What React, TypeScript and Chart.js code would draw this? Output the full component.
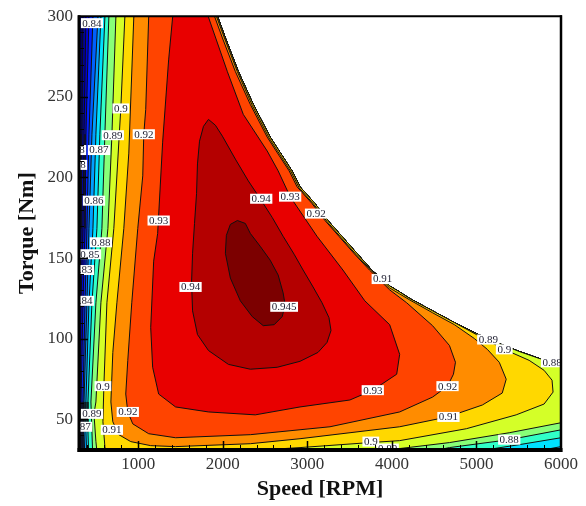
import React, { useEffect, useRef } from 'react';
import { Chart, registerables } from 'chart.js';

Chart.register(...registerables);

// ---------- axes ----------
const xMin = 300;
const xMax = 6000;
const yMin = 31;
const yMax = 300;
const xTickValues = [1000, 2000, 3000, 4000, 5000, 6000];
const yTickValues = [50, 100, 150, 200, 250, 300];
const xMinorStep = 200;
const yMinorStep = 10;

// ---------- maximum-torque envelope (from 6000 rpm back to the 300 Nm line) ----------
const envelopeRpm = [6000, 5741, 5505, 5270, 4999, 4740, 4481, 4210, 4092, 3974, 3762, 3586, 3409, 3244, 3091, 2914, 2820, 2691, 2561, 2361, 2184, 2031, 1937];
const envelopeNm = [83.5, 87.8, 92.1, 97, 103.2, 110, 117.3, 125, 129, 132.7, 142.6, 153, 163.5, 173.3, 183.8, 194.2, 204, 214.5, 225, 245.3, 265.7, 286.5, 300];

// ---------- efficiency contour paths (superlevel-set outlines) ----------
const baseRpm = [290, 290, 6100, 6100];
const baseNm = [310, 24, 24, 83.5];

const c081Rpm = [347, 347, 335, 324, 312, 306, 306, 6100, 6100];
const c081Nm = [310, 299.4, 226.8, 168.4, 122.3, 60.8, 24, 24, 83.5];
const c082Rpm = [382, 382, 359, 347, 324, 312, 312, 6100, 6100];
const c082Nm = [310, 299.4, 226.8, 168.4, 122.3, 60.8, 24, 24, 83.5];
const c083Rpm = [418, 418, 382, 371, 347, 324, 324, 6100, 6100];
const c083Nm = [310, 299.4, 226.8, 168.4, 122.3, 60.8, 24, 24, 83.5];
const c084Rpm = [465, 465, 418, 394, 371, 347, 347, 6100, 6100];
const c084Nm = [310, 299.4, 226.8, 168.4, 122.3, 60.8, 24, 24, 83.5];
const c085Rpm = [524, 524, 453, 418, 394, 359, 359, 371, 6100, 6100];
const c085Nm = [310, 299.4, 226.8, 168.4, 122.3, 60.8, 42.3, 24, 24, 83.5];
const c086Rpm = [559, 559, 500, 465, 418, 382, 382, 394, 5623, 5682, 6000, 6100, 6100];
const c086Nm = [310, 299.4, 226.8, 168.4, 122.3, 60.8, 42.3, 24, 24, 30, 33.1, 33.1, 83.5];
const c087Rpm = [606, 606, 547, 512, 453, 406, 406, 418, 4917, 4976, 5505, 6000, 6100, 6100];
const c087Nm = [310, 299.4, 226.8, 168.4, 122.3, 60.8, 42.3, 24, 24, 30, 34.3, 38.6, 38.6, 83.5];
const c088Rpm = [653, 653, 606, 571, 500, 441, 453, 465, 4328, 4445, 4681, 5388, 6000, 6100, 6100];
const c088Nm = [310, 299.4, 226.8, 168.4, 122.3, 60.8, 42.3, 24, 24, 30, 32.5, 37.4, 43.5, 43.5, 83.5];
const c089Rpm = [736, 736, 689, 642, 559, 500, 477, 500, 524, 3857, 3974, 4092, 4681, 5388, 6000, 6100, 6100];
const c089Nm = [310, 299.4, 226.2, 168.4, 122.3, 60.8, 53.4, 36.2, 24, 24, 30.6, 31.9, 35.6, 41.7, 47.9, 47.9, 83.5];
const c090Rpm = [842, 842, 795, 712, 630, 594, 583, 606, 630, 2031, 2126, 2326, 2914, 3739, 4092, 4881, 5470, 5800, 5906, 5894, 5800, 5623, 5329, 4999];
const c090Nm = [310, 299.4, 243.4, 168.4, 122.3, 70.6, 48.5, 33.1, 24, 24, 29.4, 30.6, 32.5, 35.6, 36.8, 44.2, 52.8, 59.5, 66.9, 74.3, 80.4, 86.6, 93.4, 102.6];
const c091Rpm = [948, 948, 889, 830, 748, 700, 677, 700, 771, 912, 1148, 1442, 2326, 2914, 4092, 4658, 5070, 5305, 5352, 5270, 5129, 4976, 4740, 4481, 4210, 4092, 3974, 3750, 3574, 3397, 3233, 3079, 2903, 2809, 2679, 2549, 2349, 2173, 2020, 1925, 1913];
const c091Nm = [310, 299.4, 215.1, 168.4, 122.3, 91.5, 60.8, 48.5, 40.5, 36.2, 33.7, 33.1, 34.9, 38, 45.4, 51.5, 58.9, 66.3, 74.9, 85.4, 93.4, 100.1, 108.7, 116.1, 124.1, 127.8, 131.5, 142.6, 152.4, 162.9, 172.7, 183.2, 193.6, 203.4, 213.9, 224.4, 244.7, 265.6, 286.5, 300, 310];
const c092Rpm = [1124, 1124, 1089, 1066, 1054, 995, 924, 877, 853, 877, 936, 1124, 1442, 2326, 3268, 4092, 4481, 4658, 4728, 4752, 4681, 4481, 4175, 3974, 3735, 3550, 3374, 3209, 3056, 2879, 2785, 2655, 2526, 2326, 2149, 1996, 1902, 1890];
const c092Nm = [310, 299.4, 242.2, 226.8, 201, 168.4, 122.3, 86.6, 65.7, 54.6, 47.2, 41.1, 38.6, 40.5, 45.4, 54.6, 63.8, 70.6, 78, 85.4, 95.8, 108.1, 122.3, 130.3, 142.6, 153, 163.5, 173.3, 183.8, 194.2, 204.1, 214.5, 225, 245.3, 265.7, 286.5, 300, 310];
const c093Rpm = [1407, 1407, 1360, 1289, 1230, 1183, 1148, 1171, 1242, 1442, 1831, 2385, 2914, 3503, 3774, 4057, 4092, 3974, 3680, 3421, 3115, 2797, 2655, 2526, 2243, 2055, 1831, 1807];
const c093Nm = [310, 299.4, 272.9, 221.9, 165.3, 148.1, 106.9, 82.3, 65.7, 57.7, 54.6, 52.8, 57.7, 62, 68.1, 78, 90.3, 108.7, 123.5, 142.6, 163.5, 188.1, 204.1, 216.4, 239.1, 265.6, 299.4, 310];
const c094Rpm = [1831, 1913, 1996, 2149, 2302, 2443, 2585, 2714, 2844, 2950, 3068, 3174, 3256, 3280, 3233, 3126, 2914, 2644, 2326, 2067, 1831, 1701, 1643, 1631, 1643, 1666, 1690, 1701, 1725, 1772, 1831];
const c094Nm = [236, 232.4, 225.6, 211.4, 197.9, 186.8, 175.2, 163.5, 152.4, 142.6, 132.1, 122.3, 113.1, 105.1, 97.7, 91.5, 86, 82.3, 81.1, 84.1, 92.7, 102.6, 117.3, 134.6, 153, 171.5, 189.9, 208.4, 222.5, 231.7, 236];
const c0945Rpm = [2173, 2267, 2326, 2443, 2561, 2655, 2714, 2738, 2703, 2608, 2479, 2349, 2208, 2090, 2031, 2043, 2090, 2173];
const c0945Nm = [173.3, 171.5, 165.3, 157.3, 148.7, 139.5, 128.4, 121, 113.7, 108.7, 108.1, 113.7, 123.5, 137.6, 153, 164.1, 170.9, 173.3];

const levelNames = ['<0.81', '0.81', '0.82', '0.83', '0.84', '0.85', '0.86', '0.87', '0.88', '0.89', '0.9', '0.91', '0.92', '0.93', '0.94', '0.945'];
const levelColors = ['#000060', '#0000a0', '#0000d8', '#0020ff', '#0060ff', '#00a0ff', '#00e0ff', '#30ffc8', '#88ff78', '#d4ff28', '#ffd800', '#ff8c00', '#ff4400', '#e80000', '#b40000', '#7c0000'];
const levelRpm = [baseRpm, c081Rpm, c082Rpm, c083Rpm, c084Rpm, c085Rpm, c086Rpm, c087Rpm, c088Rpm, c089Rpm, c090Rpm, c091Rpm, c092Rpm, c093Rpm, c094Rpm, c0945Rpm];
const levelNm = [baseNm, c081Nm, c082Nm, c083Nm, c084Nm, c085Nm, c086Nm, c087Nm, c088Nm, c089Nm, c090Nm, c091Nm, c092Nm, c093Nm, c094Nm, c0945Nm];
const levelClosed = [false, false, false, false, false, false, false, false, false, false, false, false, false, false, true, true];

// ---------- contour labels ----------
const labelText = ['0.84', '0.9', '0.89', '0.92', '0.87', '0.88', '0.88', '0.86', '0.93', '0.88', '0.85', '0.83', '0.84', '0.94', '0.945', '0.94', '0.93', '0.92', '0.91', '0.89', '0.9', '0.88', '0.92', '0.93', '0.91', '0.9', '0.89', '0.88', '0.9', '0.89', '0.92', '0.87', '0.91'];
const labelRpm = [453, 795, 700, 1066, 536, 253, 265, 477, 1242, 559, 430, 347, 347, 1619, 2726, 2455, 2797, 3103, 3892, 5140, 5329, 5894, 4658, 3774, 4669, 3751, 3951, 5388, 583, 453, 877, 324, 689];
const labelNm = [295.7, 242.8, 226.2, 226.8, 217, 217, 207.8, 185.6, 173.3, 159.8, 152.4, 142.6, 123.5, 132.1, 119.8, 186.8, 188.1, 177.6, 137, 99.5, 93.4, 85.4, 70.6, 68.1, 51.5, 36.2, 31.9, 37.4, 70.6, 53.4, 54.6, 45.4, 43.5];

const ABOVE_TOP = 310;

function buildPolygon(rpm: number[], nm: number[], closed: boolean) {
  const pts = rpm.map((x, i) => ({ x, y: nm[i] }));
  if (closed) return pts;
  const last = pts[pts.length - 1];
  if (last.y < ABOVE_TOP - 1) {
    for (let i = 0; i < envelopeRpm.length; i++) {
      if (envelopeRpm[i] < last.x - 1) pts.push({ x: envelopeRpm[i], y: envelopeNm[i] });
    }
    pts.push({ x: envelopeRpm[envelopeRpm.length - 1], y: ABOVE_TOP });
  }
  pts.push({ ...pts[0] });
  return pts;
}

const SERIF = '"Liberation Serif", "Times New Roman", serif';

const decorPlugin = {
  id: 'decor',
  afterDatasetsDraw(chart: any) {
    const { ctx, chartArea: a } = chart;
    const xs = chart.scales.x;
    const ys = chart.scales.y;
    // contour labels
    ctx.save();
    ctx.beginPath();
    ctx.rect(a.left, a.top, a.right - a.left, a.bottom - a.top);
    ctx.clip();
    ctx.font = '11px ' + SERIF;
    ctx.textAlign = 'center';
    ctx.textBaseline = 'middle';
    labelText.forEach((t, i) => {
      const px = xs.getPixelForValue(labelRpm[i]);
      const py = ys.getPixelForValue(labelNm[i]);
      const w = ctx.measureText(t).width + 3;
      const h = 10;
      ctx.fillStyle = '#ffffff';
      ctx.fillRect(px - w / 2, py - h / 2, w, h);
      ctx.fillStyle = '#1e1e30';
      ctx.fillText(t, px, py + 0.5);
    });
    ctx.restore();

    // inward ticks
    ctx.save();
    ctx.strokeStyle = '#000';
    const seg = (x1: number, y1: number, x2: number, y2: number, w: number) => {
      ctx.lineWidth = w;
      ctx.beginPath();
      ctx.moveTo(x1, y1);
      ctx.lineTo(x2, y2);
      ctx.stroke();
    };
    for (let v = Math.ceil(xMin / xMinorStep) * xMinorStep; v < xMax; v += xMinorStep) {
      const major = xTickValues.includes(v);
      const px = Math.round(xs.getPixelForValue(v)) + 0.5;
      seg(px, a.bottom, px, a.bottom - (major ? 9 : 5), major ? 1.5 : 1);
    }
    for (let v = Math.ceil(yMin / yMinorStep) * yMinorStep; v < yMax; v += yMinorStep) {
      const major = yTickValues.includes(v);
      const py = Math.round(ys.getPixelForValue(v)) + 0.5;
      seg(a.left, py, a.left + (major ? 9 : 5), py, major ? 1.5 : 1);
    }
    // frame
    seg(a.left - 1, a.top, a.right + 1, a.top, 2);
    seg(a.right, a.top - 1, a.right, a.bottom + 2, 2.5);
    seg(a.left, a.top - 1, a.left, a.bottom + 2, 3);
    seg(a.left - 1.5, a.bottom, a.right + 1.5, a.bottom, 4);
    ctx.restore();
  },
};

export default function App() {
  const canvasRef = useRef<HTMLCanvasElement | null>(null);

  useEffect(() => {
    const canvas = canvasRef.current;
    if (!canvas) return;
    const n = levelNames.length;
    const datasets = levelNames.map((name, i) => ({
      label: name,
      data: buildPolygon(levelRpm[i], levelNm[i], levelClosed[i]),
      showLine: true,
      fill: 'shape',
      backgroundColor: levelColors[i],
      borderColor: '#101010',
      borderWidth: 1,
      pointRadius: 0,
      pointHoverRadius: 0,
      tension: 0,
      order: n - i,
    }));

    const chart = new Chart(canvas, {
      type: 'scatter',
      data: { datasets } as any,
      options: {
        responsive: false,
        animation: false,
        devicePixelRatio: 1,
        events: [],
        layout: { padding: { left: 0, right: 25, top: 11, bottom: 0 } },
        plugins: {
          legend: { display: false },
          tooltip: { enabled: false },
        },
        scales: {
          x: {
            type: 'linear',
            min: xMin,
            max: xMax,
            grid: { display: false, drawTicks: false },
            border: { display: false },
            afterBuildTicks: (s: any) => {
              s.ticks = xTickValues.map((v) => ({ value: v }));
            },
            afterFit: (s: any) => {
              s.height = 56;
            },
            ticks: {
              padding: 4,
              color: '#333',
              font: { family: SERIF, size: 17 },
              maxRotation: 0,
              callback: (v: any) => String(v),
            },
            title: {
              display: true,
              text: 'Speed [RPM]',
              color: '#111',
              font: { family: SERIF, size: 22, weight: 'bold' },
              padding: { top: 0, bottom: 3 },
            },
          },
          y: {
            type: 'linear',
            min: yMin,
            max: yMax,
            grid: { display: false, drawTicks: false },
            border: { display: false },
            afterBuildTicks: (s: any) => {
              s.ticks = yTickValues.map((v) => ({ value: v }));
            },
            afterFit: (s: any) => {
              s.width = 79;
            },
            ticks: {
              padding: 6,
              color: '#333',
              font: { family: SERIF, size: 17 },
              callback: (v: any) => String(v),
            },
            title: {
              display: true,
              text: 'Torque [Nm]',
              color: '#111',
              font: { family: SERIF, size: 22, weight: 'bold' },
              padding: { top: 14, bottom: 0 },
            },
          },
        },
      } as any,
      plugins: [decorPlugin],
    });
    return () => chart.destroy();
  }, []);

  return (
    <div style={{ position: 'fixed', left: 0, top: 0, width: 586, height: 506, background: '#fff' }}>
      <canvas ref={canvasRef} width={586} height={506} style={{ display: 'block', width: 586, height: 506 }} />
    </div>
  );
}
